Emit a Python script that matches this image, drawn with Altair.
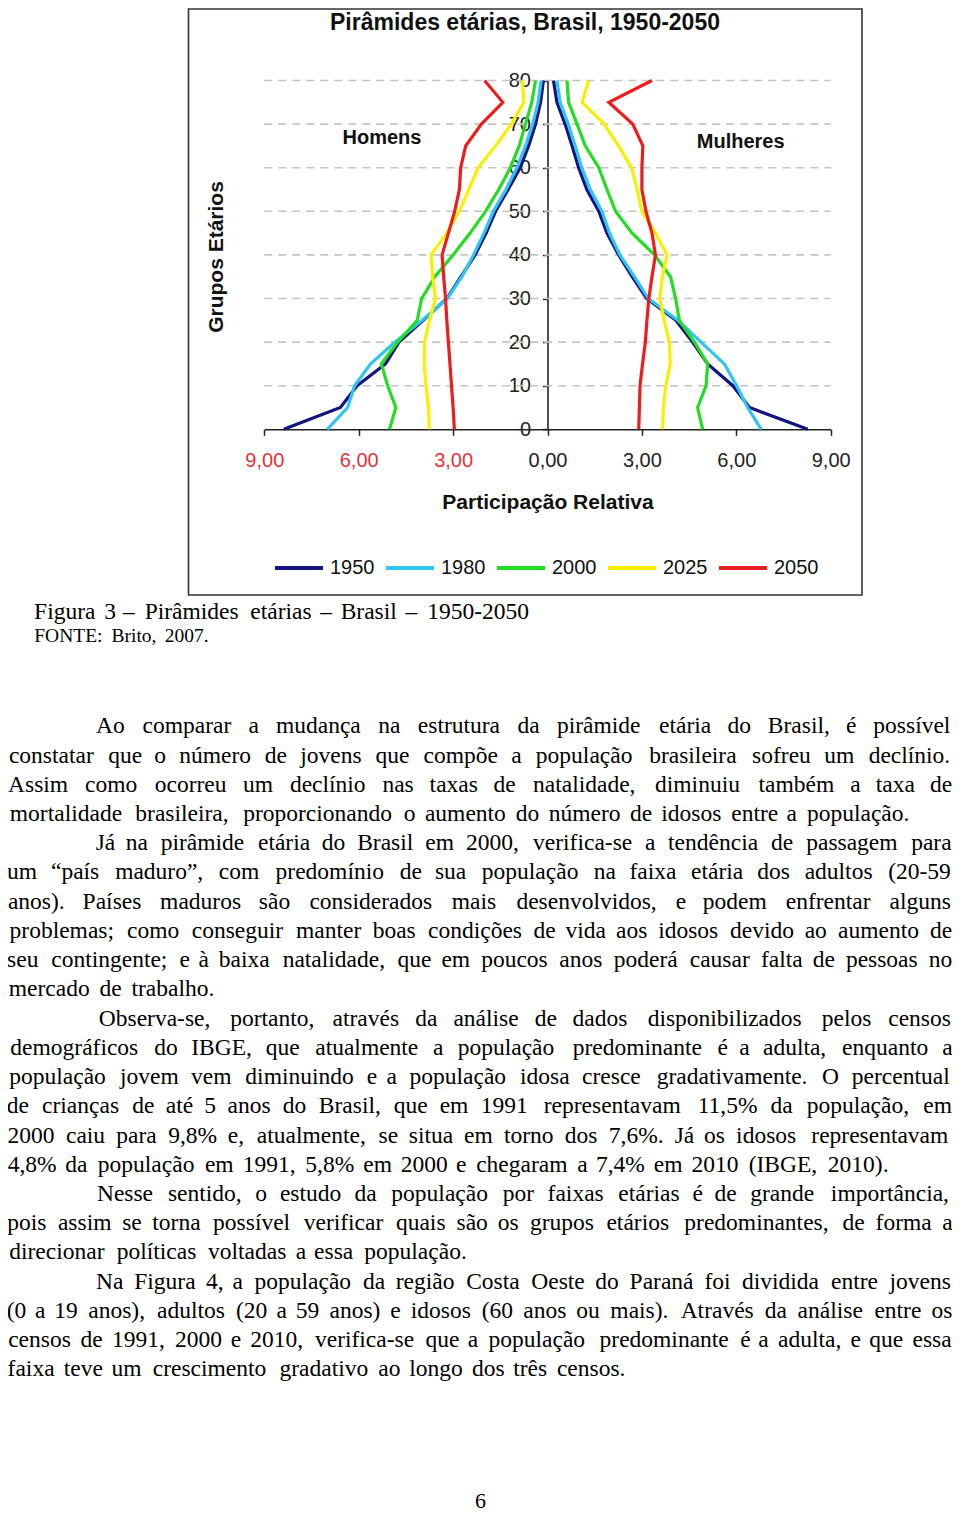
import unicodedata
import altair as alt
import pandas as pd

# ---------------- chart data ----------------
AGES = [0, 5, 10, 15, 20, 25, 30, 35, 40, 45, 50, 55, 60, 65, 70, 75, 80]
YEARS = ["1950", "1980", "2000", "2025", "2050"]
COLORS = ["#14147f", "#2ec6f0", "#22dd22", "#f7f000", "#ee1c1c"]

HOMENS_1950 = [8.38, 6.58, 6.05, 5.15, 4.72, 3.95, 3.20, 2.75, 2.30, 1.95, 1.65, 1.25, 0.87, 0.60, 0.38, 0.22, 0.13]
HOMENS_1980 = [7.00, 6.35, 6.13, 5.62, 4.85, 3.98, 3.18, 2.72, 2.35, 2.02, 1.72, 1.32, 0.97, 0.70, 0.47, 0.30, 0.20]
HOMENS_2000 = [5.02, 4.82, 5.08, 5.28, 4.76, 4.14, 4.00, 3.58, 3.00, 2.46, 1.97, 1.55, 1.18, 0.90, 0.70, 0.50, 0.38]
HOMENS_2025 = [3.76, 3.78, 3.86, 3.92, 3.91, 3.75, 3.56, 3.65, 3.70, 3.20, 2.80, 2.50, 2.20, 1.65, 1.15, 0.75, 0.80]
HOMENS_2050 = [2.96, 3.00, 3.05, 3.10, 3.15, 3.20, 3.24, 3.30, 3.35, 3.15, 2.95, 2.80, 2.76, 2.60, 2.10, 1.42, 2.00]

MULHERES_1950 = [8.27, 6.42, 5.89, 5.09, 4.61, 4.08, 3.15, 2.69, 2.26, 1.89, 1.63, 1.25, 0.99, 0.78, 0.56, 0.30, 0.19]
MULHERES_1980 = [6.79, 6.36, 6.01, 5.62, 4.88, 4.14, 3.20, 2.76, 2.30, 1.97, 1.73, 1.36, 1.09, 0.88, 0.66, 0.40, 0.30]
MULHERES_2000 = [4.93, 4.77, 5.04, 5.09, 4.67, 4.19, 4.07, 3.91, 3.40, 2.69, 2.16, 1.89, 1.63, 1.20, 0.94, 0.67, 0.62]
MULHERES_2025 = [3.66, 3.68, 3.76, 3.90, 3.87, 3.71, 3.57, 3.65, 3.80, 3.43, 3.00, 2.85, 2.67, 2.26, 1.80, 1.10, 1.31]
MULHERES_2050 = [2.90, 2.92, 2.94, 3.02, 3.11, 3.16, 3.22, 3.32, 3.43, 3.32, 3.13, 3.00, 3.00, 3.03, 2.71, 1.95, 3.32]

X_TICKS = [-9, -6, -3, 0, 3, 6, 9]
Y_TICKS = [0, 10, 20, 30, 40, 50, 60, 70, 80]
GRID_AGES = [10, 20, 30, 40, 50, 60, 70, 80]

CAPTION = "Figura 3 – Pirâmides etárias – Brasil – 1950-2050"
SOURCE = "FONTE: Brito, 2007."
PAGE_NUMBER = "6"
PARAGRAPHS = [
    ["Ao comparar a mudança na estrutura da pirâmide etária do Brasil, é possível",
     "constatar que o número de jovens que compõe a população brasileira sofreu um declínio.",
     "Assim como ocorreu um declínio nas taxas de natalidade, diminuiu também a taxa de",
     "mortalidade brasileira, proporcionando o aumento do número de idosos entre a população."],
    ["Já na pirâmide etária do Brasil em 2000, verifica-se a tendência de passagem para",
     "um “país maduro”, com predomínio de sua população na faixa etária dos adultos (20-59",
     "anos). Países maduros são considerados mais desenvolvidos, e podem enfrentar alguns",
     "problemas; como conseguir manter boas condições de vida aos idosos devido ao aumento de",
     "seu contingente; e à baixa natalidade, que em poucos anos poderá causar falta de pessoas no",
     "mercado de trabalho."],
    ["Observa-se, portanto, através da análise de dados disponibilizados pelos censos",
     "demográficos do IBGE, que atualmente a população predominante é a adulta, enquanto a",
     "população jovem vem diminuindo e a população idosa cresce gradativamente. O percentual",
     "de crianças de até 5 anos do Brasil, que em 1991 representavam 11,5% da população, em",
     "2000 caiu para 9,8% e, atualmente, se situa em torno dos 7,6%. Já os idosos representavam",
     "4,8% da população em 1991, 5,8% em 2000 e chegaram a 7,4% em 2010 (IBGE, 2010)."],
    ["Nesse sentido, o estudo da população por faixas etárias é de grande importância,",
     "pois assim se torna possível verificar quais são os grupos etários predominantes, de forma a",
     "direcionar políticas voltadas a essa população."],
    ["Na Figura 4, a população da região Costa Oeste do Paraná foi dividida entre jovens",
     "(0 a 19 anos), adultos (20 a 59 anos) e idosos (60 anos ou mais). Através da análise entre os",
     "censos de 1991, 2000 e 2010, verifica-se que a população predominante é a adulta, e que essa",
     "faixa teve um crescimento gradativo ao longo dos três censos."],
]

# ---------------- tables ----------------
men = [HOMENS_1950, HOMENS_1980, HOMENS_2000, HOMENS_2025, HOMENS_2050]
women = [MULHERES_1950, MULHERES_1980, MULHERES_2000, MULHERES_2025, MULHERES_2050]
rows = []
for yr, mv, wv in zip(YEARS, men, women):
    for a, v in zip(AGES, mv):
        rows.append({"year": yr, "sex": "Homens", "age": a, "value": -v})
    for a, v in zip(AGES, wv):
        rows.append({"year": yr, "sex": "Mulheres", "age": a, "value": v})
df = pd.DataFrame(rows)

# ---------------- page geometry ----------------
W, H = 944, 1509
XL, XR = 256.3, 822.7      # pixel range of -9 .. 9
Y0, Y80 = 421.3, 72.5      # pixel range of 0 .. 80
AXIS_X = (XL + XR) / 2

XS = alt.Scale(domain=[-9, 9], range=[XL, XR], nice=False, zero=False)
YS = alt.Scale(domain=[0, 80], range=[Y0, Y80], nice=False, zero=False)

SANS = "Liberation Sans"
SERIF = "Liberation Serif"

# Times / Liberation Serif advance widths (1/1000 em)
TW = {" ": 250, ",": 250, ".": 250, "-": 333, "–": 500, "(": 333, ")": 333, ";": 278, ":": 278,
      "%": 833, "“": 444, "”": 444,
      "A": 722, "B": 667, "C": 667, "D": 722, "E": 611, "F": 556, "G": 722, "H": 722, "I": 333,
      "J": 389, "K": 722, "L": 611, "M": 889, "N": 722, "O": 722, "P": 556, "Q": 722, "R": 667,
      "S": 556, "T": 611, "U": 722, "V": 722, "W": 944, "X": 722, "Y": 722, "Z": 611,
      "a": 444, "b": 500, "c": 444, "d": 500, "e": 444, "f": 333, "g": 500, "h": 500, "i": 278,
      "j": 278, "k": 500, "l": 278, "m": 778, "n": 500, "o": 500, "p": 500, "q": 500, "r": 333,
      "s": 389, "t": 278, "u": 500, "v": 500, "w": 722, "x": 500, "y": 500, "z": 444}


def em(s):
    t = 0
    for ch in s:
        base = unicodedata.normalize("NFD", ch)[0]
        t += TW.get(base, 500)
    return t / 1000.0


def layout_line(text, left, right, baseline, weq, justify):
    words = text.split(" ")
    widths = [em(w) * weq for w in words]
    if justify and len(words) > 1:
        gap = (right - left - sum(widths)) / (len(words) - 1)
    else:
        gap = 0.25 * weq
    out, x = [], left
    for w, wd in zip(words, widths):
        out.append({"word": w, "x": x + wd / 2, "y": baseline})
        x += wd + gap
    return out


WEQ = 25.1
body = []
line_no = 0
for para in PARAGRAPHS:
    for i, ln in enumerate(para):
        left = 87 if i == 0 else -2
        justify = i < len(para) - 1
        body += layout_line(ln, left, W + 1, 725.3 + 29.23 * line_no, WEQ, justify)
        line_no += 1
body_df = pd.DataFrame(body)
cap_df = pd.DataFrame(layout_line(CAPTION, 24, W, 610.5, WEQ, False))
src_df = pd.DataFrame(layout_line(SOURCE, 24, W, 634, 20.8, False))

# ---------------- layers ----------------
grid = alt.Chart(pd.DataFrame({"age": GRID_AGES})).mark_rule(
    color="#c4c4c4", strokeDash=[8, 6], strokeWidth=1.6
).encode(
    x=alt.XDatum(-9, scale=XS, axis=None),
    x2=alt.X2Datum(9),
    y=alt.Y("age:Q", scale=YS, axis=None),
)

lines = alt.Chart(df).mark_line(strokeWidth=3.2).encode(
    x=alt.X("value:Q", scale=XS, axis=alt.Axis(
        values=X_TICKS, grid=False, offset=-(H - Y0),
        labelExpr="replace(format(abs(datum.value), '.2f'), '.', ',')",
        labelColor={"condition": {"test": "datum.value < 0", "value": "#e2343a"}, "value": "#222222"},
        labelFont=SANS, labelFontSize=20, labelPadding=15, labelFlush=False, labelOverlap=False,
        tickSize=6, tickWidth=1.5, tickColor="#222222", domainColor="#222222", domainWidth=1.6,
        title="Participação Relativa", titleFont=SANS, titleFontSize=21, titleFontWeight="bold",
        titleColor="#111111", titlePadding=21)),
    y=alt.Y("age:Q", scale=YS, axis=alt.Axis(
        values=Y_TICKS, grid=False, offset=-AXIS_X, title=None,
        labelFont=SANS, labelFontSize=20, labelColor="#222222", labelPadding=12,
        labelFlush=False, labelOverlap=False,
        tickSize=5, tickWidth=1.5, tickColor="#222222", domainColor="#222222", domainWidth=1.6)),
    color=alt.Color("year:N", scale=alt.Scale(domain=YEARS, range=COLORS), legend=alt.Legend(
        orient="none", legendX=265, legendY=534, direction="horizontal", title=None,
        symbolType="stroke", symbolSize=2300, symbolStrokeWidth=4,
        labelFont=SANS, labelFontSize=20, labelColor="#111111", labelOffset=5, columnPadding=3)),
    detail="sex:N",
    order=alt.Order("age:Q"),
)

one = pd.DataFrame({"k": [0]})
border = alt.Chart(one).mark_rect(filled=False, stroke="#333333", strokeWidth=1.6).encode(
    x=alt.value(180.5), x2=alt.value(854), y=alt.value(1), y2=alt.value(587))

title = alt.Chart(one).mark_text(
    text="Pirâmides etárias, Brasil, 1950-2050", font=SANS, fontSize=23, fontWeight="bold",
    color="#111111", baseline="middle", align="center"
).encode(x=alt.value(517), y=alt.value(15))

ytitle = alt.Chart(one).mark_text(
    text="Grupos Etários", font=SANS, fontSize=21, fontWeight="bold", angle=270,
    color="#111111", baseline="middle", align="center"
).encode(x=alt.value(209), y=alt.value(249))

homens = alt.Chart(one).mark_text(
    text="Homens", font=SANS, fontSize=20, fontWeight="bold", color="#111111",
    baseline="middle", align="center"
).encode(x=alt.XDatum(-5.26, scale=XS, axis=None), y=alt.YDatum(66.9, scale=YS, axis=None))

mulheres = alt.Chart(one).mark_text(
    text="Mulheres", font=SANS, fontSize=20, fontWeight="bold", color="#111111",
    baseline="middle", align="center"
).encode(x=alt.XDatum(6.14, scale=XS, axis=None), y=alt.YDatum(66.0, scale=YS, axis=None))


def words_layer(d, size):
    return alt.Chart(d).mark_text(font=SERIF, fontSize=size, color="#000000",
                                  align="center", baseline="alphabetic").encode(
        x=alt.X("x:Q", scale=None, axis=None),
        y=alt.Y("y:Q", scale=None, axis=None),
        text="word:N")


page_no = alt.Chart(one).mark_text(
    text=PAGE_NUMBER, font=SERIF, fontSize=22, color="#000000", align="center", baseline="alphabetic"
).encode(x=alt.value(472.5), y=alt.value(1500))

chart = alt.layer(
    border, grid, lines, title, ytitle, homens, mulheres,
    words_layer(cap_df, 23.5), words_layer(src_df, 19.5), words_layer(body_df, 23.5), page_no
).resolve_scale(x="independent", y="independent").properties(
    width=W, height=H, padding=0, autosize="none", background="white"
).configure_view(strokeWidth=0)

chart.save("out.html", embed_options={"renderer": "svg", "actions": False})
